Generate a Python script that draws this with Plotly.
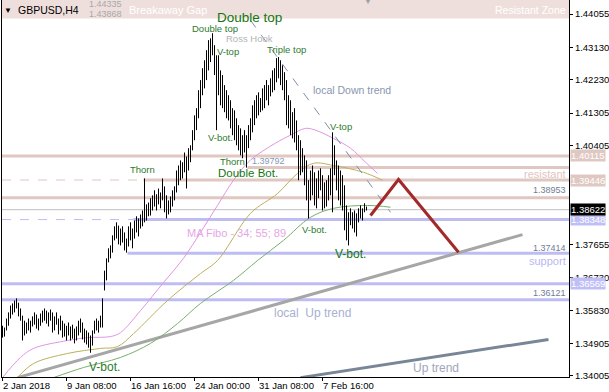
import plotly.graph_objects as go

# ---------------- data: GBPUSD H4 bars, index 0 = 2 Jan 2018 00:00 ----------------
highs = [
    1.3540, 1.3535, 1.3560, 1.3577, 1.3596, 1.3602, 1.3610, 1.3616, 1.3604, 1.3588,
    1.3568, 1.3554, 1.3549, 1.3560, 1.3554, 1.3566, 1.3577, 1.3571, 1.3560, 1.3574,
    1.3582, 1.3588, 1.3582, 1.3577, 1.3585, 1.3577, 1.3566, 1.3577, 1.3560, 1.3568,
    1.3554, 1.3546, 1.3540, 1.3549, 1.3538, 1.3543, 1.3532, 1.3538, 1.3554, 1.3560,
    1.3549, 1.3532, 1.3527, 1.3521, 1.3513, 1.3527, 1.3554, 1.3560, 1.3554, 1.3568,
    1.3616, 1.3693, 1.3727, 1.3755, 1.3763, 1.3791, 1.3816, 1.3827, 1.3818, 1.3810,
    1.3816, 1.3799, 1.3782, 1.3816, 1.3827, 1.3810, 1.3832, 1.3844, 1.3838, 1.3849,
    1.3860, 1.3949, 1.3877, 1.3882, 1.3894, 1.3902, 1.3916, 1.3905, 1.3921, 1.3910,
    1.3949, 1.3927, 1.3902, 1.3888, 1.3899, 1.3916, 1.3927, 1.3971, 1.3985, 1.3999,
    1.3994, 1.4021, 1.4010, 1.4033, 1.4041, 1.4083, 1.4124, 1.4144, 1.4194, 1.4222,
    1.4255, 1.4277, 1.4305, 1.4333, 1.4338, 1.4352, 1.4319, 1.4291, 1.4291, 1.4249,
    1.4236, 1.4208, 1.4194, 1.4180, 1.4166, 1.4144, 1.4138, 1.4116, 1.4097, 1.4088,
    1.4069, 1.4083, 1.4069, 1.4097, 1.4116, 1.4152, 1.4166, 1.4180, 1.4188, 1.4172,
    1.4199, 1.4208, 1.4222, 1.4208, 1.4227, 1.4249, 1.4255, 1.4283, 1.4286, 1.4277,
    1.4263, 1.4244, 1.4222, 1.4180, 1.4166, 1.4133, 1.4144, 1.4110, 1.4069, 1.4055,
    1.4033, 1.4013, 1.3999, 1.3944, 1.3971, 1.3985, 1.3966, 1.3949, 1.3971, 1.3977,
    1.3958, 1.3938, 1.3944, 1.3958, 1.3977, 1.4077, 1.4041, 1.3999, 1.3985, 1.3971,
    1.3958, 1.3930, 1.3874, 1.3855, 1.3866, 1.3855, 1.3860, 1.3852, 1.3866, 1.3874,
    1.3866, 1.3880, 1.3871,
]
lows = [
    1.3507, 1.3510, 1.3527, 1.3540, 1.3560, 1.3571, 1.3577, 1.3588, 1.3566, 1.3554,
    1.3499, 1.3513, 1.3518, 1.3527, 1.3521, 1.3538, 1.3543, 1.3532, 1.3527, 1.3540,
    1.3549, 1.3554, 1.3546, 1.3538, 1.3554, 1.3521, 1.3527, 1.3543, 1.3516, 1.3527,
    1.3507, 1.3510, 1.3499, 1.3513, 1.3499, 1.3504, 1.3491, 1.3499, 1.3513, 1.3521,
    1.3502, 1.3493, 1.3488, 1.3479, 1.3465, 1.3485, 1.3518, 1.3527, 1.3521, 1.3535,
    1.3535, 1.3638, 1.3666, 1.3716, 1.3727, 1.3743, 1.3777, 1.3782, 1.3766, 1.3763,
    1.3771, 1.3749, 1.3743, 1.3760, 1.3777, 1.3755, 1.3782, 1.3799, 1.3788, 1.3810,
    1.3816, 1.3827, 1.3832, 1.3844, 1.3846, 1.3860, 1.3871, 1.3860, 1.3877, 1.3866,
    1.3888, 1.3855, 1.3838, 1.3849, 1.3855, 1.3871, 1.3888, 1.3910, 1.3930, 1.3944,
    1.3949, 1.3966, 1.3921, 1.3971, 1.3994, 1.4027, 1.4055, 1.4083, 1.4116, 1.4144,
    1.4180, 1.4199, 1.4222, 1.4249, 1.4272, 1.4291, 1.4236, 1.4083, 1.4180, 1.4152,
    1.4144, 1.4133, 1.4116, 1.4110, 1.4088, 1.4069, 1.4055, 1.4041, 1.4027, 1.4013,
    1.4005, 1.4021, 1.3979, 1.4033, 1.4055, 1.4077, 1.4097, 1.4116, 1.4124, 1.4133,
    1.4138, 1.4144, 1.4166, 1.4152, 1.4177, 1.4188, 1.4194, 1.4216, 1.4227, 1.4208,
    1.4194, 1.4166, 1.4097, 1.4088, 1.4069, 1.4060, 1.4049, 1.4027, 1.3944, 1.3958,
    1.3966, 1.3930, 1.3888, 1.3838, 1.3888, 1.3902, 1.3874, 1.3866, 1.3894, 1.3916,
    1.3860, 1.3866, 1.3871, 1.3888, 1.3902, 1.3855, 1.3958, 1.3916, 1.3888, 1.3874,
    1.3860, 1.3805, 1.3777, 1.3763, 1.3819, 1.3810, 1.3799, 1.3788, 1.3827, 1.3838,
    1.3832, 1.3855, 1.3860,
]

# time axis labels (bar index of each label)
tick_idx = [0, 32, 64, 96, 128, 160]
tick_text = ["2 Jan 2018", "9 Jan 08:00", "16 Jan 16:00", "24 Jan 00:00", "31 Jan 08:00", "7 Feb 16:00"]

# price axis ticks
price_ticks = [1.44055, 1.43130, 1.42230, 1.41305, 1.40405, 1.37655, 1.36730, 1.35830, 1.34905, 1.34005]

# MA Fibo 34 / 55 / 89 (bar index / price)
ma34_x = [0, 9, 15.5, 32.5, 42.5, 54, 59, 69, 80.5, 90.5, 99, 107.5, 115.5, 124, 136.5, 144, 151.5, 156.5, 165.5, 174, 181.5, 187.5]
ma34_y = [1.3396, 1.3452, 1.3477, 1.3499, 1.3507, 1.3510, 1.3521, 1.3582, 1.3660, 1.3727, 1.3799, 1.3874, 1.3944, 1.4000, 1.4047, 1.4069, 1.4088, 1.4083, 1.4060, 1.4033, 1.3994, 1.3963]
ma55_x = [7.5, 15.5, 32.5, 49, 57.5, 65.5, 82.5, 99, 107.5, 124, 137.5, 147.5, 155.5, 165.5, 180.5, 190]
ma55_y = [1.3396, 1.3435, 1.3463, 1.3477, 1.3482, 1.3518, 1.3610, 1.3685, 1.3721, 1.3852, 1.3907, 1.3963, 1.3991, 1.3985, 1.3966, 1.3944]
ma89_x = [25.5, 40.5, 59, 74, 87.5, 99, 115.5, 127.5, 140.5, 154, 165.5, 182.5, 194]
ma89_y = [1.3396, 1.3424, 1.3452, 1.3491, 1.3546, 1.3602, 1.3666, 1.3721, 1.3777, 1.3841, 1.3866, 1.3874, 1.3869]

# trend lines
local_up_x = [7.5, 260]
local_up_y = [1.3396, 1.3793]
up_x = [149, 273]
up_y = [1.3396, 1.3502]
down_x = [124, 194]
down_y = [1.4388, 1.3855]
zig_x = [184, 198, 228]
zig_y = [1.3846, 1.3946, 1.3744]

# horizontal levels: price, start bar, dashed-until bar
res_levels = [1.40115, 1.39792, 1.39446, 1.38953]
res_start = [0, 122.5, 70.5, 0]
res_dash = [None, None, 70.5, None]
sup_levels = [1.38348, 1.37414, 1.36569, 1.36121]
sup_start = [65.5, 62.5, 0, 0]
sup_dash = [65.5, None, None, None]
last_price = 1.38622
zone_low = 1.4393

# ---------------- figure ----------------
FONT = "Liberation Sans, Arial, sans-serif"
ROSE = "#e0c7c1"
LAV = "#bdbdf3"
XR = [-0.25, 283.25]
YR = [1.33977, 1.44444]

fig = go.Figure()

shapes = []
# header zone
shapes.append(dict(type="rect", xref="paper", yref="y", x0=0, x1=1, y0=zone_low, y1=YR[1] + 0.001,
                   fillcolor="#efdfdc", line=dict(width=0), layer="below"))

def hline(p, start, dash_end, color):
    if dash_end is not None:
        shapes.append(dict(type="line", xref="x", yref="y", x0=XR[0], x1=dash_end, y0=p, y1=p,
                           line=dict(color=color, width=1, dash="dash"), layer="below"))
        s = dash_end
    else:
        s = start if start > 0 else XR[0]
    shapes.append(dict(type="line", xref="x", yref="y", x0=s, x1=XR[1], y0=p, y1=p,
                       line=dict(color=color, width=3), layer="below"))

for p, s, d in zip(res_levels, res_start, res_dash):
    hline(p, s, d, ROSE)
for p, s, d in zip(sup_levels, sup_start, sup_dash):
    hline(p, s, d, LAV)
shapes.append(dict(type="line", xref="x", yref="y", x0=XR[0], x1=XR[1], y0=last_price, y1=last_price,
                   line=dict(color="#c0c0c0", width=1), layer="below"))

# trend lines
fig.add_trace(go.Scatter(x=local_up_x, y=local_up_y, mode="lines", line=dict(color="#a6a6a6", width=3)))
fig.add_trace(go.Scatter(x=up_x, y=up_y, mode="lines", line=dict(color="#788697", width=3)))

# MAs
fig.add_trace(go.Scatter(x=ma34_x, y=ma34_y, mode="lines", line=dict(color="#e295e2", width=1, shape="spline")))
fig.add_trace(go.Scatter(x=ma55_x, y=ma55_y, mode="lines", line=dict(color="#bdb05a", width=1, shape="spline")))
fig.add_trace(go.Scatter(x=ma89_x, y=ma89_y, mode="lines", line=dict(color="#78b06a", width=1, shape="spline")))

# bars
bx, by = [], []
for i, (h, l) in enumerate(zip(highs, lows)):
    bx += [i, i, None]
    by += [l, h, None]
fig.add_trace(go.Scatter(x=bx, y=by, mode="lines", line=dict(color="black", width=1)))

# down trend + zigzag
fig.add_trace(go.Scatter(x=down_x, y=down_y, mode="lines", line=dict(color="#7f8ea6", width=1, dash="dash")))
fig.add_trace(go.Scatter(x=zig_x, y=zig_y, mode="lines", line=dict(color="#a32a2a", width=3)))

# ---------------- annotations ----------------
L, W, H = 2, 567, 377
def P(x, y):
    return (x - L) / W, 1 - y / H

anns = []
def lab(text, x, y, size, color, anchor="center"):
    px, py = P(x, y)
    anns.append(dict(xref="paper", yref="paper", x=px, y=py, text=text, showarrow=False,
                     xanchor=anchor, yanchor="middle", font=dict(family=FONT, size=size, color=color)))

GRN = "#2d7a2d"
DGRN = "#117711"
lab("Double top", 249, 18, 13.5, DGRN)
lab("Double top", 215, 29, 9.5, GRN)
lab("Ross Hook", 249, 39, 9.5, "#b4b4b4")
lab("V-top", 228, 51, 9.5, GRN)
lab("Triple top", 286, 50, 9.5, GRN)
lab("V-bot.", 220, 137, 9.5, GRN)
lab("Thorn", 142, 169, 9.5, GRN)
lab("Thorn", 232, 161, 9.5, GRN)
lab("1.39792", 250, 161, 9, "#8898b8", "left")
lab("Double Bot.", 248, 173, 11.5, DGRN)
lab("local Down trend", 352, 90, 10.5, "#8a96b0")
lab("V-top", 341, 126, 9.5, GRN)
lab("V-bot.", 314, 229, 9.5, GRN)
lab("V-bot.", 350, 254, 12, DGRN)
lab("MA Fibo - 34; 55; 89", 236, 233, 11, "#e6a6e6")
lab("V-bot.", 104, 367, 12, GRN)
lab("local\u00a0\u00a0Up trend", 312, 313, 12, "#a9b0d2")
lab("Up trend", 436, 368, 12, "#9ea6bb")
lab("resistant", 568, 174, 11, "#e0c5bf", "right")
lab("support", 568, 261, 11, "#b8b8f0", "right")
lab("1.38953", 568, 190, 9, "#6f7d95", "right")
lab("1.37414", 568, 248, 9, "#6f7d95", "right")
lab("1.36121", 568, 293, 9, "#6f7d95", "right")
lab("\u25BC", 8, 10, 8, "black")
lab("GBPUSD,H4", 16, 10, 10.5, "black", "left")
lab("1.44335", 87, 4, 9, "#a8a8a8", "left")
lab("1.43868", 87, 14, 9, "#a8a8a8", "left")
lab("Breakaway Gap", 127, 10, 11, "white", "left")
lab("Resistant Zone", 568, 10, 10.5, "white", "right")
lab("\u25BC", 368, 2, 8, "#a0a0a0")

# axis price boxes
def box(p, bg, fg="white"):
    anns.append(dict(xref="paper", yref="y", x=1, y=p, text=f"{p:.5f}", showarrow=False,
                     xanchor="left", yanchor="middle", xshift=1, bgcolor=bg, borderpad=0,
                     font=dict(family=FONT, size=9.5, color=fg)))
box(res_levels[0], "#e0c8c2")
box(res_levels[2], "#e0c8c2")
box(sup_levels[0], "#bfbff5")
box(last_price, "black")
box(sup_levels[2], "#bfbff5")

# time labels
for t, txt in zip(tick_idx, tick_text):
    anns.append(dict(xref="x", yref="paper", x=t, y=0, text=txt, showarrow=False,
                     xanchor="left", yanchor="top", xshift=-2, yshift=-1,
                     font=dict(family=FONT, size=9.5, color="black")))

fig.update_layout(
    width=609, height=392,
    margin=dict(l=2, r=40, t=0, b=15),
    plot_bgcolor="white", paper_bgcolor="white",
    showlegend=False, hovermode=False,
    shapes=shapes, annotations=anns,
    xaxis=dict(range=XR, showgrid=False, zeroline=False, showline=True, linecolor="black", linewidth=1,
               tickvals=tick_idx, ticks="outside", ticklen=3, tickcolor="black", showticklabels=False),
    yaxis=dict(range=YR, side="right", showgrid=False, zeroline=False, showline=True, mirror=True,
               linecolor="black", linewidth=1, tickvals=price_ticks, automargin=False,
               ticktext=[f"{v:.5f}" for v in price_ticks], ticks="outside", ticklen=3, tickcolor="black",
               tickfont=dict(family=FONT, size=9.5, color="black")),
)

fig.write_html("out.html", config={"displayModeBar": False},
               post_script="document.body.style.margin='0';document.body.style.padding='0';")
